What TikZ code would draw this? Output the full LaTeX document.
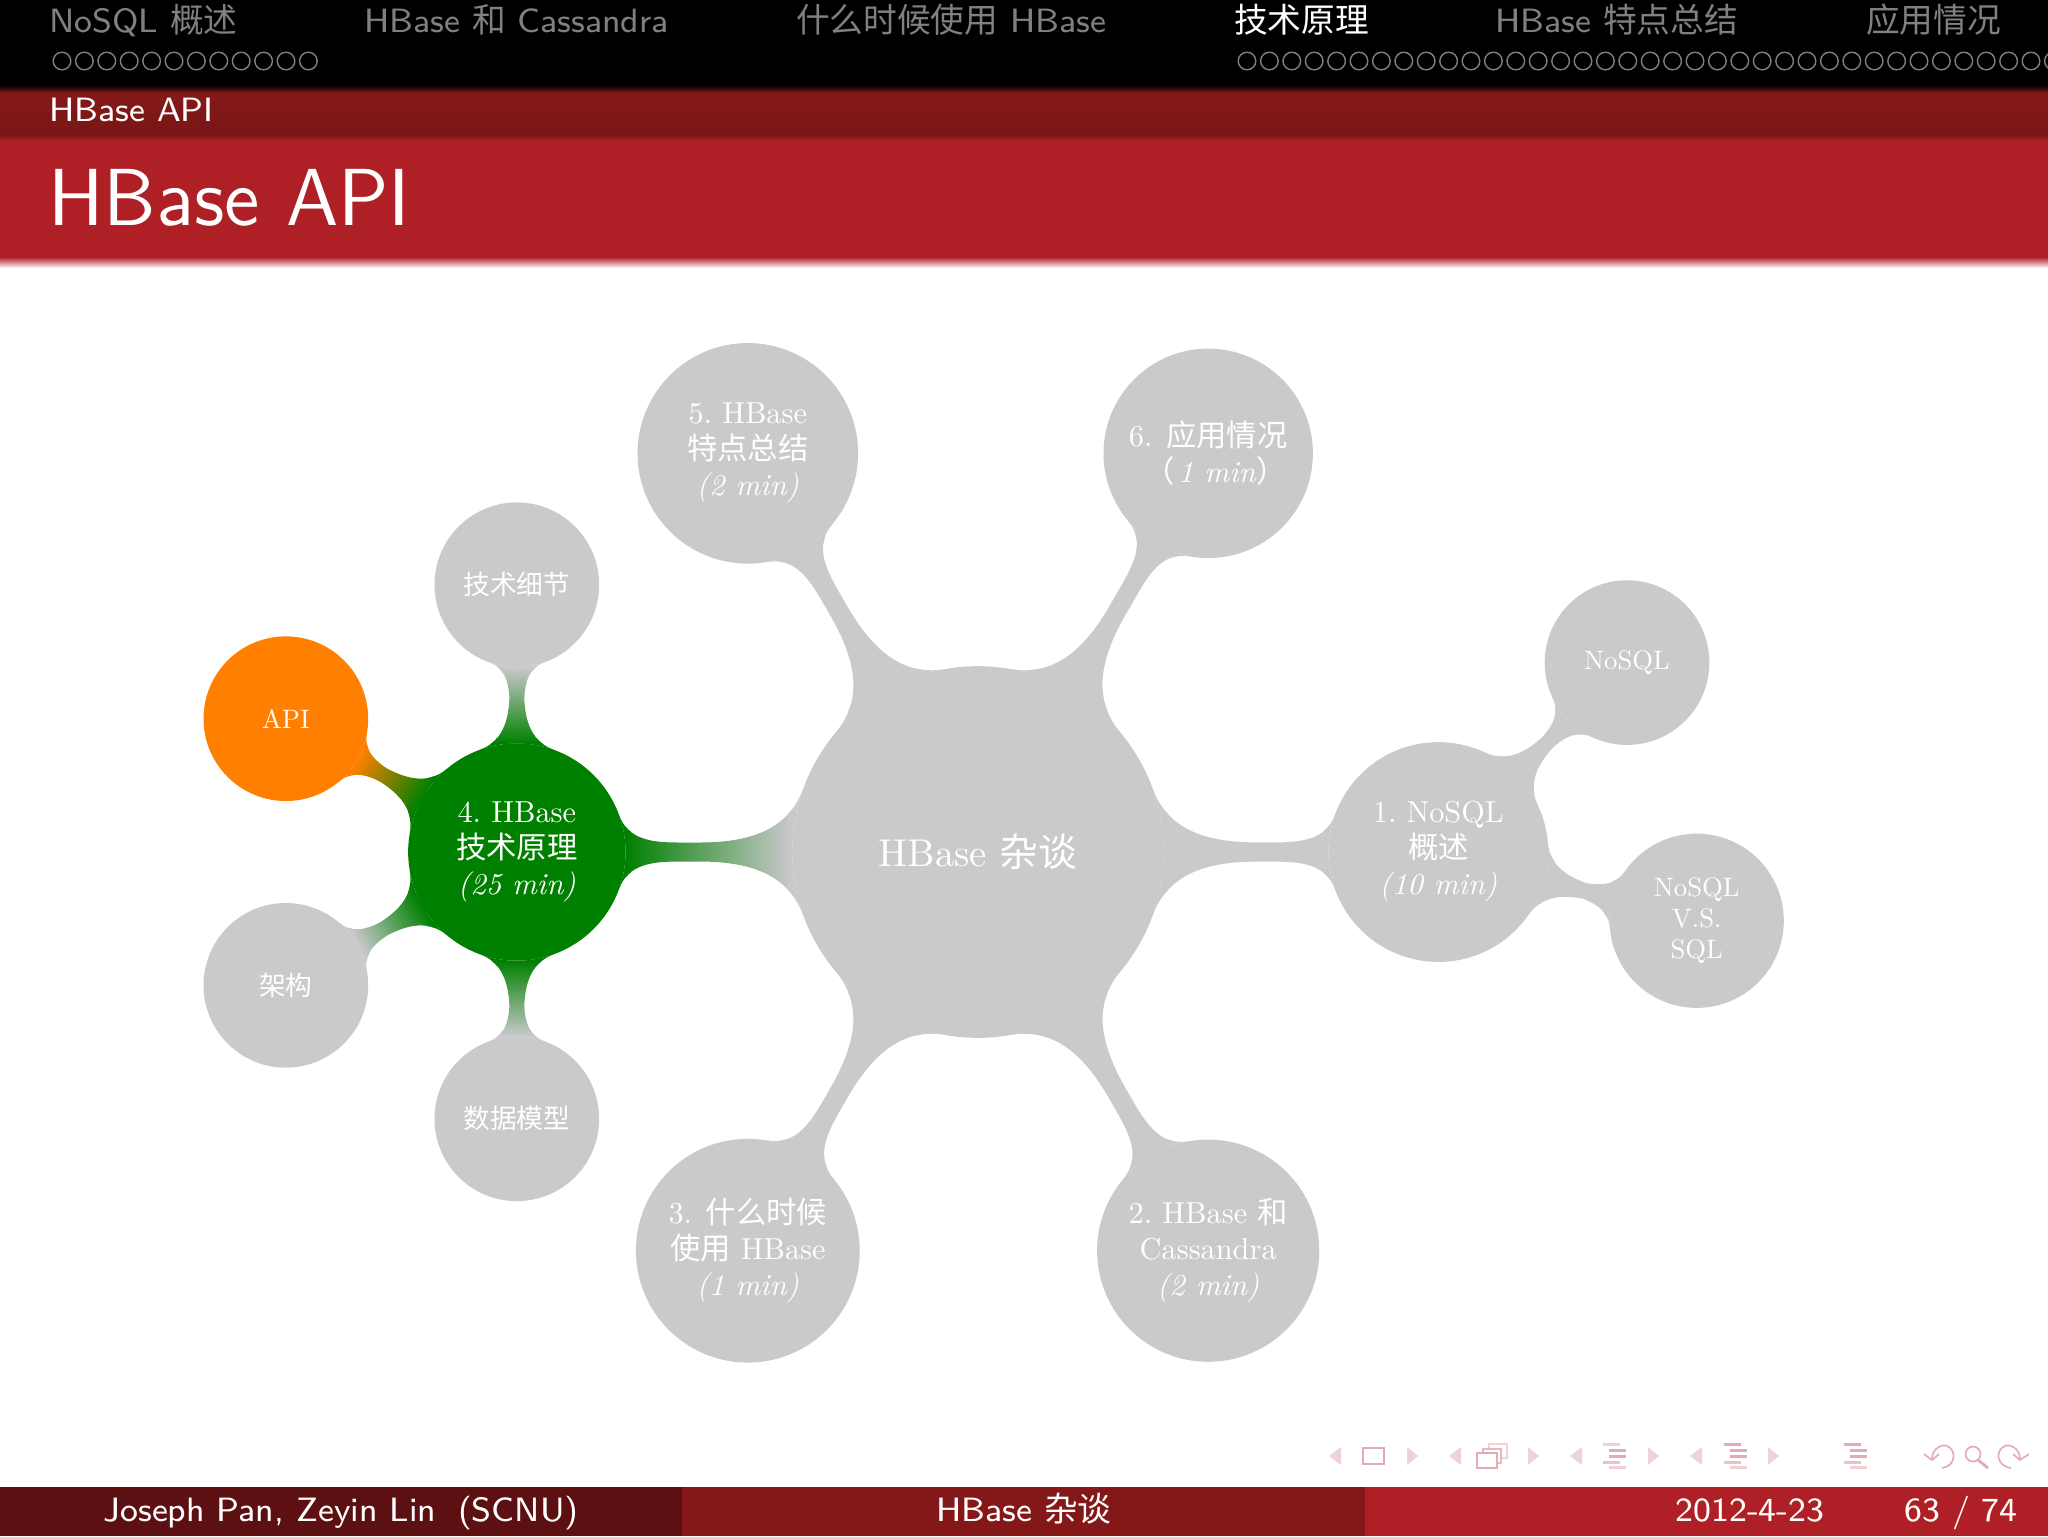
\documentclass[tikz,border=0pt]{standalone}
\usepackage{fontspec}
\setmainfont{lmroman10-regular}[Extension=.otf, ItalicFont=lmroman10-italic]
\newfontfamily\cjk{Noto Sans CJK SC}
\usetikzlibrary{mindmap, positioning, backgrounds}
\definecolor{conceptgray}{RGB}{203,201,204}
\definecolor{techgreen}{RGB}{0,128,0}
\definecolor{apiorange}{RGB}{255,128,0}
\definecolor{titlered}{RGB}{175,32,38}
\definecolor{subred}{RGB}{133,25,24}
\definecolor{footdark}{RGB}{92,16,18}
\definecolor{footmid}{RGB}{132,24,25}
\definecolor{navgray}{RGB}{128,128,128}
\definecolor{navpink}{RGB}{239,210,214}
\definecolor{navrose}{RGB}{226,172,180}
\tikzstyle{concept node} = [circle, fill=conceptgray, text=white, align=center, inner sep=0pt, outer sep=0pt]
\tikzstyle{root} = [concept node, minimum size=2.325cm, font=\fontsize{6.9}{8}\selectfont]
\tikzstyle{branch} = [concept node, minimum size=1.375cm, font=\fontsize{5.4}{6.4}\selectfont]
\tikzstyle{leaf} = [concept node, minimum size=1.03cm, font=\fontsize{4.75}{5.5}\selectfont]
\tikzstyle{headtext} = [anchor=base west, inner sep=0pt, text=navgray, font=\sffamily\fontsize{6}{7}\selectfont]
\tikzstyle{foottext} = [anchor=base, inner sep=0pt, text=white, font=\sffamily\fontsize{6}{7}\selectfont]
\tikzstyle{miniframe} = [draw=navgray, line width=0.25pt]
\tikzstyle{navline} = [navrose, line width=0.3pt]
\tikzstyle{grayline} = [circle connection bar switch color=from (conceptgray) to (conceptgray)]
\begin{document}
\begin{tikzpicture}[x=0.00625cm, y=-0.00625cm, on grid]
	\useasboundingbox (0,0) rectangle (2048,1536);
	% headline and frame title
	\fill[black] (0,0) rectangle (2048,85);
	\shade[top color=black, bottom color=subred] (0,85) rectangle (2048,93);
	\shade[top color=subred, bottom color=subred!90!black] (0,93) rectangle (2048,135);
	\shade[top color=subred!90!black, bottom color=titlered] (0,135) rectangle (2048,141);
	\fill[titlered] (0,141) rectangle (2048,257);
	\shade[top color=titlered, bottom color=white] (0,257) rectangle (2048,268);
	\node [headtext] (secnosql) at (48,32) {NoSQL {\cjk 概述}};
	\node [headtext] (seccass) at (363,32) {HBase {\cjk 和} Cassandra};
	\node [headtext] (secwhen) at (795,32) {{\cjk 什么时候使用} HBase};
	\node [headtext, text=white] (sectech) at (1233,32) {{\cjk 技术原理}};
	\node [headtext] (secfeat) at (1494,32) {HBase {\cjk 特点总结}};
	\node [headtext] (secuse) at (1865,32) {{\cjk 应用情况}};
	\foreach \i in {0,...,11}
		\draw[miniframe] (62+\i*22.4,61) circle (8.8);
	\foreach \i in {0,...,36}
		\draw[miniframe] (1247+\i*22.4,61) circle (8.8);
	\node [headtext, text=white] (subtitle) at (48,121) {HBase API};
	\node [headtext, text=white, font=\sffamily\fontsize{14.4}{16}\selectfont] (title) at (47,225) {HBase API};
	% node placement
	\node [root] (hbase) at (978,852) {HBase {\cjk 杂谈}};
	\node [branch, right = 2.88cm of hbase] (nosql) {1.\ NoSQL\\{\cjk 概述}\\\textit{(10 min)}};
	\node [branch, fill=techgreen, minimum size=1.36cm, left = 2.885cm of hbase] (tech) {4.\ HBase\\{\cjk 技术原理}\\\textit{(25 min)}};
	\node [branch, minimum size=1.38cm, above left = 2.494cm and 1.44cm of hbase] (feature) {5.\ HBase\\{\cjk 特点总结}\\\textit{(2 min)}};
	\node [branch, minimum size=1.31cm, above right = 2.494cm and 1.44cm of hbase] (usage) {6.\hspace{0.45em}{\cjk 应用情况}\\\hspace*{0.5em}{\cjk （}\hspace{0.1em}\textit{1 min}{\cjk ）}};
	\node [branch, minimum size=1.4cm, below left = 2.494cm and 1.44cm of hbase] (when) {3.\hspace{0.45em}{\cjk 什么时候}\\{\cjk 使用} HBase\\\textit{(1 min)}};
	\node [branch, minimum size=1.39cm, below right = 2.494cm and 1.44cm of hbase] (cass) {2.\ HBase {\cjk 和}\\Cassandra\\\textit{(2 min)}};
	\node [leaf, above = 1.672cm of tech] (detail) {{\cjk 技术细节}};
	\node [leaf, fill=apiorange, above left = 0.834cm and 1.445cm of tech] (api) {API};
	\node [leaf, below left = 0.834cm and 1.445cm of tech] (arch) {{\cjk 架构}};
	\node [leaf, below = 1.669cm of tech] (model) {{\cjk 数据模型}};
	\node [leaf, above right = 1.185cm and 1.18cm of nosql] (nosqlleaf) {NoSQL};
	\node [leaf, minimum size=1.09cm, below right = 0.43cm and 1.616cm of nosql] (versus) {NoSQL\\V.S.\\SQL};
	% bars between the circles
	\begin{scope}[on background layer]
		\path (hbase) to[grayline] (nosql);
		\path (hbase) to[grayline] (feature);
		\path (hbase) to[grayline] (usage);
		\path (hbase) to[grayline] (when);
		\path (hbase) to[grayline] (cass);
		\path (hbase) to[circle connection bar switch color=from (conceptgray) to (techgreen)] (tech);
		\path (tech) to[circle connection bar switch color=from (techgreen) to (conceptgray)] (detail);
		\path (tech) to[circle connection bar switch color=from (techgreen) to (apiorange)] (api);
		\path (tech) to[circle connection bar switch color=from (techgreen) to (conceptgray)] (arch);
		\path (tech) to[circle connection bar switch color=from (techgreen) to (conceptgray)] (model);
		\path (nosql) to[grayline] (nosqlleaf);
		\path (nosql) to[grayline] (versus);
	\end{scope}
	% footline
	\fill[footdark] (0,1487) rectangle (682,1536);
	\fill[footmid] (682,1487) rectangle (1365,1536);
	\fill[titlered] (1365,1487) rectangle (2048,1536);
	\node [foottext] (authors) at (341,1521) {Joseph Pan, Zeyin Lin\hspace{0.65em}(SCNU)};
	\node [foottext] (talk) at (1024,1521) {HBase {\cjk 杂谈}};
	\node [foottext] (date) at (1750,1521) {2012-4-23};
	\node [foottext] (page) at (1961,1521) {63 / 74};
	% navigation symbols
	\foreach \x in {1329,1449,1570,1690}
		\fill[navpink] (\x,1456) -- (\x+12,1447) -- (\x+12,1465) -- cycle;
	\foreach \x in {1407,1528,1648,1768}
		\fill[navpink] (\x+11,1456) -- (\x,1447) -- (\x,1465) -- cycle;
	\draw[navline] (1363,1448) rectangle (1384,1464);
	\draw[navpink, line width=0.25pt] (1489,1444) rectangle (1507,1458);
	\draw[navrose!70!navpink, fill=white, line width=0.25pt] (1483,1449) rectangle (1501,1463);
	\draw[navline, fill=white] (1477,1453) rectangle (1497,1468);
	\foreach \x/\c in {1603/navpink,1724/navrose,1844/navrose}{
		\fill[\c] (\x,1443) rectangle +(17,3);
		\fill[navrose] (\x+6,1449) rectangle +(17,3);
		\fill[navrose] (\x+6,1455) rectangle +(17,3);
		\fill[navpink!60!navrose] (\x,1461) rectangle +(17,3);
		\fill[navpink] (\x+6,1466) rectangle +(17,3);
	}
	\draw[navline] (1932,1459) .. controls (1932,1447) and (1944,1444) .. (1947,1446) .. controls (1957,1450) and (1956,1466) .. (1942,1468);
	\draw[navline] (1924,1454) -- (1932,1460) -- (1939,1454);
	\draw[navline] (1973,1454) circle (7.5);
	\draw[navrose, line width=0.5pt] (1978,1460) -- (1988,1468);
	\draw[navline] (2020,1459) .. controls (2020,1447) and (2008,1444) .. (2005,1446) .. controls (1995,1450) and (1996,1466) .. (2011,1468);
	\draw[navline] (2029,1454) -- (2020,1460) -- (2013,1454);
\end{tikzpicture}
\end{document}
